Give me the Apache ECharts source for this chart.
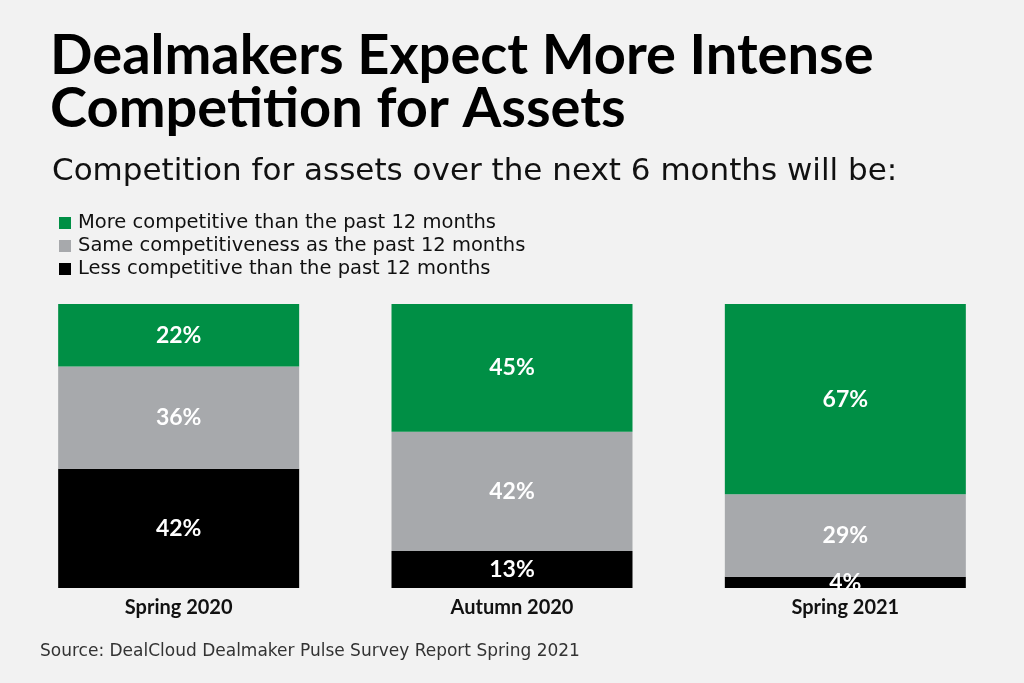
<!DOCTYPE html>
<html>
<head>
<meta charset="utf-8">
<script src="https://cdn.jsdelivr.net/npm/echarts@6/dist/echarts.min.js"></script>
<style>
  html, body { margin: 0; padding: 0; background: #f2f2f2; }
  #chart { width: 1024px; height: 683px; }
</style>
</head>
<body>
<div id="chart"></div>
<script>
// survey waves
var periods = ['Spring 2020', 'Autumn 2020', 'Spring 2021'];
// shares in %
var moreCompetitive = [22, 45, 67];
var sameCompetitive = [36, 42, 29];
var lessCompetitive = [42, 13, 4];

var legendNames = [
  'More competitive than the past 12 months',
  'Same competitiveness as the past 12 months',
  'Less competitive than the past 12 months'
];

var FONT = 'Lato';
var FONT_WIDE = 'DejaVu Sans';

function bar(name, data, color) {
  return {
    name: name,
    type: 'bar',
    stack: 'total',
    barWidth: 241,
    data: data,
    itemStyle: { color: color },
    label: {
      show: true,
      position: 'inside',
      formatter: '{c}%',
      color: '#fff',
      fontFamily: FONT,
      fontWeight: 'bold',
      fontSize: 23
    }
  };
}

var myChart = echarts.init(document.getElementById('chart'));
myChart.setOption({
  backgroundColor: '#f2f2f2',
  animation: false,
  title: [
    {
      text: 'Dealmakers Expect More Intense\nCompetition for Assets',
      left: 45,
      top: 24,
      textStyle: { fontFamily: FONT, fontWeight: 'bold', fontSize: 56, lineHeight: 53, color: '#000' }
    },
    {
      text: 'Competition for assets over the next 6 months will be:',
      left: 47,
      top: 151,
      textStyle: { fontFamily: FONT_WIDE, fontWeight: 'normal', fontSize: 31, color: '#111' }
    },
    {
      text: 'Source: DealCloud Dealmaker Pulse Survey Report Spring 2021',
      left: 35,
      top: 638,
      textStyle: { fontFamily: FONT_WIDE, fontWeight: 'normal', fontSize: 17, color: '#333' }
    }
  ],
  legend: {
    data: legendNames,
    orient: 'vertical',
    left: 54,
    top: 208,
    itemWidth: 12,
    itemHeight: 12,
    itemGap: 3,
    icon: 'rect',
    textStyle: { fontFamily: FONT_WIDE, fontSize: 19.5, color: '#111', padding: [0, 0, 0, 2] }
  },
  grid: { left: 12, right: 12, top: 304, bottom: 95 },
  xAxis: {
    type: 'category',
    data: periods,
    axisLine: { show: false },
    axisTick: { show: false },
    axisLabel: { fontFamily: FONT, fontWeight: 'bold', fontSize: 20, color: '#111', margin: 10 }
  },
  yAxis: {
    type: 'value',
    min: 0,
    max: 100,
    show: false
  },
  series: [
    bar(legendNames[2], lessCompetitive, '#000000'),
    bar(legendNames[1], sameCompetitive, '#a7a9ac'),
    bar(legendNames[0], moreCompetitive, '#008f45')
  ]
});
</script>
</body>
</html>
